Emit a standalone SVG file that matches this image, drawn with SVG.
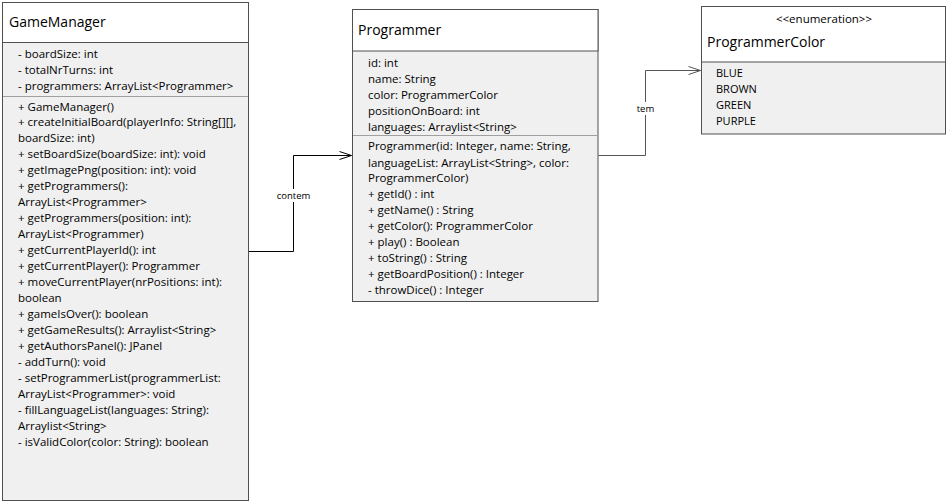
<svg xmlns="http://www.w3.org/2000/svg" width="948" height="504" viewBox="0 0 948 504">
<style>
.box{fill:#f0f0f0;stroke:#505050;stroke-width:1}
.head{fill:#ffffff;stroke:#505050;stroke-width:1}
.sep{stroke:#a0a0a0;stroke-width:1}
.t{font-family:"Open Sans","Liberation Sans",Arial,sans-serif;font-size:11.5px;fill:#000}
.title{font-family:"Open Sans","Liberation Sans",Arial,sans-serif;font-size:14px;fill:#000}
.lbl{font-family:"Open Sans","Liberation Sans",Arial,sans-serif;font-size:9.5px;fill:#000}
.conn{fill:none;stroke-width:1}
</style>
<defs>
<marker id="open" markerWidth="14" markerHeight="10" refX="13" refY="5" orient="auto" markerUnits="userSpaceOnUse">
<path d="M1,1 L13,5 L1,9" fill="none" stroke="#000" stroke-width="1"/>
</marker>
<marker id="open2" markerWidth="14" markerHeight="10" refX="13" refY="5" orient="auto" markerUnits="userSpaceOnUse">
<path d="M1,1 L13,5 L1,9" fill="none" stroke="#555" stroke-width="1"/>
</marker>
</defs>
<rect x="0" y="0" width="948" height="504" fill="#ffffff"/>

<g id="connectors">
<polyline class="conn" stroke="#000" points="248.5,251.5 293.5,251.5 293.5,155.5 351.5,155.5" marker-end="url(#open)"/>
<rect x="275" y="189" width="38" height="13" fill="#fff"/>
<text class="lbl" x="293.5" y="199" text-anchor="middle">contem</text>
<polyline class="conn" stroke="#555" points="598.5,155.5 645.5,155.5 645.5,70.5 700.5,70.5" marker-end="url(#open2)"/>
<rect x="634" y="102" width="24" height="13" fill="#fff"/>
<text class="lbl" x="645.5" y="112" text-anchor="middle">tem</text>
</g>

<g id="GameManager">
<rect class="box" x="2.5" y="2.5" width="246" height="498"/>
<rect class="head" x="2.5" y="2.5" width="246" height="40"/>
<text class="title" x="9" y="27">GameManager</text>
<line class="sep" x1="3" y1="96.5" x2="248" y2="96.5"/>
<g class="t">
<text x="18" y="58">- boardSize: int</text>
<text x="18" y="74">- totalNrTurns: int</text>
<text x="18" y="90">- programmers: ArrayList&lt;Programmer&gt;</text>
<text x="18" y="111">+ GameManager()</text>
<text x="18" y="126">+ createInitialBoard(playerInfo: String[][],</text>
<text x="18" y="142">boardSize: int)</text>
<text x="18" y="158">+ setBoardSize(boardSize: int): void</text>
<text x="18" y="174">+ getImagePng(position: int): void</text>
<text x="18" y="190">+ getProgrammers():</text>
<text x="18" y="206">ArrayList&lt;Programmer&gt;</text>
<text x="18" y="222">+ getProgrammers(position: int):</text>
<text x="18" y="238">ArrayList&lt;Programmer)</text>
<text x="18" y="254">+ getCurrentPlayerId(): int</text>
<text x="18" y="270">+ getCurrentPlayer(): Programmer</text>
<text x="18" y="286">+ moveCurrentPlayer(nrPositions: int):</text>
<text x="18" y="302">boolean</text>
<text x="18" y="318">+ gameIsOver(): boolean</text>
<text x="18" y="334">+ getGameResults(): Arraylist&lt;String&gt;</text>
<text x="18" y="350">+ getAuthorsPanel(): JPanel</text>
<text x="18" y="366">- addTurn(): void</text>
<text x="18" y="382">- setProgrammerList(programmerList:</text>
<text x="18" y="398">ArrayList&lt;Programmer&gt;: void</text>
<text x="18" y="414">- fillLanguageList(languages: String):</text>
<text x="18" y="430">Arraylist&lt;String&gt;</text>
<text x="18" y="446">- isValidColor(color: String): boolean</text>
</g>
</g>

<g id="Programmer">
<rect class="box" x="352.5" y="9.5" width="245.5" height="292"/>
<rect class="head" x="352.5" y="9.5" width="245.5" height="41.5"/>
<text class="title" x="358" y="35">Programmer</text>
<line class="sep" x1="353" y1="135.5" x2="597" y2="135.5"/>
<g class="t">
<text x="368" y="67">id: int</text>
<text x="368" y="83">name: String</text>
<text x="368" y="99">color: ProgrammerColor</text>
<text x="368" y="115">positionOnBoard: int</text>
<text x="368" y="131">languages: Arraylist&lt;String&gt;</text>
<text x="368" y="150">Programmer(id: Integer, name: String,</text>
<text x="368" y="167">languageList: ArrayList&lt;String&gt;, color:</text>
<text x="368" y="182">ProgrammerColor)</text>
<text x="368" y="198">+ getId() : int</text>
<text x="368" y="214">+ getName() : String</text>
<text x="368" y="230">+ getColor(): ProgrammerColor</text>
<text x="368" y="246">+ play() : Boolean</text>
<text x="368" y="262">+ toString() : String</text>
<text x="368" y="278">+ getBoardPosition() : Integer</text>
<text x="368" y="294">- throwDice() : Integer</text>
</g>
</g>

<g id="ProgrammerColor">
<rect class="box" x="701.5" y="6.5" width="244" height="127.5"/>
<rect class="head" x="701.5" y="6.5" width="244" height="55.5"/>
<text class="t" x="824" y="23" text-anchor="middle">&lt;&lt;enumeration&gt;&gt;</text>
<text class="title" x="707" y="47">ProgrammerColor</text>
<g class="t" style="font-size:11px">
<text x="716" y="77">BLUE</text>
<text x="716" y="93">BROWN</text>
<text x="716" y="109">GREEN</text>
<text x="716" y="125">PURPLE</text>
</g>
</g>
</svg>
